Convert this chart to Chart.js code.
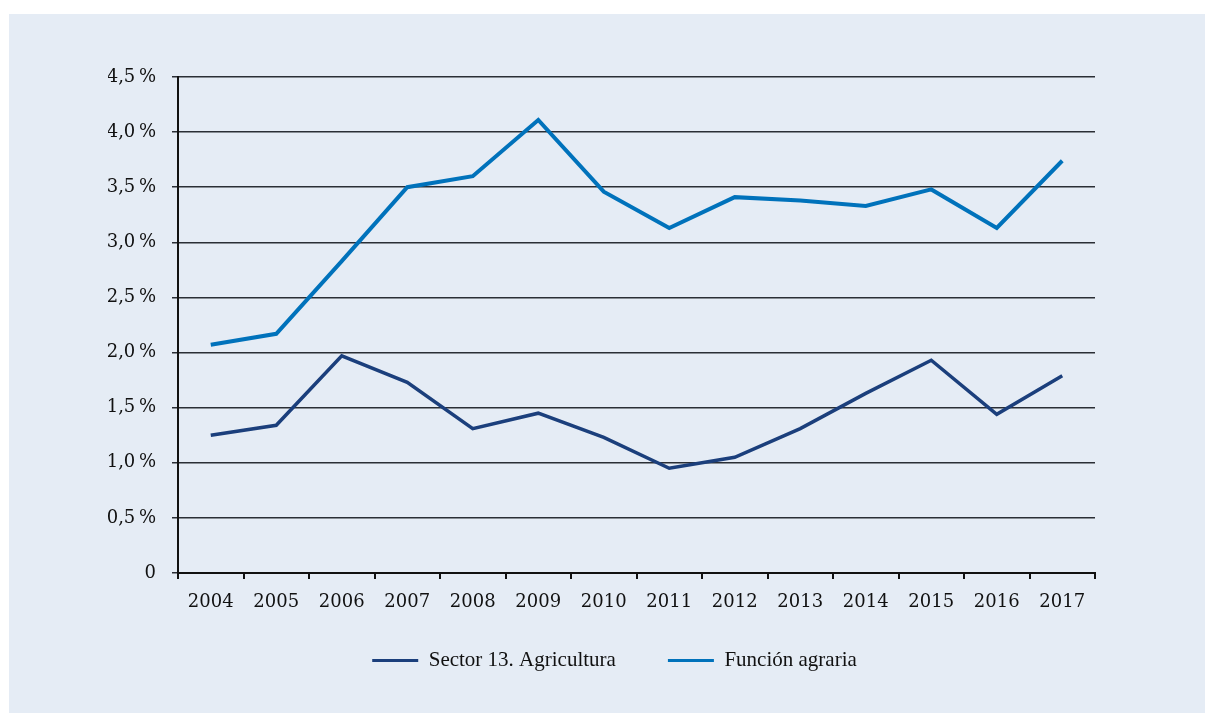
<!DOCTYPE html>
<html>
<head>
<meta charset="utf-8">
<script src="https://cdn.jsdelivr.net/npm/chart.js@4"></script>
<style>
  body { margin: 0; background: #ffffff; }
  #panel { position: absolute; left: 9px; top: 14px; width: 1196px; height: 699px; background: #e5ecf5; }
</style>
</head>
<body>
<div id="panel"><canvas id="lineChart"></canvas></div>
<script>
// Données
var annees = ["2004","2005","2006","2007","2008","2009","2010","2011","2012","2013","2014","2015","2016","2017"];
var sector13 = [1.25, 1.34, 1.97, 1.73, 1.31, 1.45, 1.23, 0.95, 1.05, 1.31, 1.63, 1.93, 1.44, 1.79];
var funcionAgraria = [2.07, 2.17, 2.83, 3.50, 3.60, 4.11, 3.46, 3.13, 3.41, 3.38, 3.33, 3.48, 3.13, 3.74];
var yTicks = [0, 0.5, 1, 1.5, 2, 2.5, 3, 3.5, 4, 4.5];

var tickFont = { family: "'DejaVu Serif', serif", size: 18 };

var data = {
  labels: annees,
  datasets: [{
    label: 'Sector 13. Agricultura',
    data: sector13,
    borderColor: '#1b3f7c',
    backgroundColor: '#1b3f7c',
    borderWidth: 3.5,
    pointRadius: 0,
    tension: 0
  }, {
    label: 'Función agraria',
    data: funcionAgraria,
    borderColor: '#0072bb',
    backgroundColor: '#0072bb',
    borderWidth: 4,
    pointRadius: 0,
    tension: 0
  }]
};

// décale la légende pour la centrer comme l'original
var decalLegende = {
  id: 'decalLegende',
  afterLayout: function (chart) {
    chart.legend.left += 13;
    chart.legend.right += 13;
  }
};

var options = {
  responsive: false,
  animation: false,
  layout: { padding: { left: 99, right: 110, top: 63, bottom: 32 } },
  plugins: {
    tooltip: { enabled: false },
    legend: {
      position: 'bottom',
      labels: {
        color: '#111',
        font: { family: "'Liberation Serif', serif", size: 21 },
        boxWidth: 46,
        boxHeight: 3,
        padding: 10,
        generateLabels: function (chart) {
          return Chart.defaults.plugins.legend.labels.generateLabels(chart).map(function (l, i) {
            l.lineWidth = 0;
            // espace entre les deux items
            if (i === 0) l.text = l.text + '        ';
            return l;
          });
        }
      }
    }
  },
  scales: {
    x: {
      offset: true,
      grid: { offset: true, drawOnChartArea: false, color: '#111', tickLength: 6, lineWidth: 2 },
      border: { color: '#111', width: 2 },
      ticks: { color: '#111', font: tickFont, padding: 13, maxRotation: 0 },
      afterFit: function (axis) { axis.height = 67; }
    },
    y: {
      min: 0,
      max: 4.5,
      afterBuildTicks: function (axis) {
        axis.ticks = yTicks.map(function (v) { return { value: v }; });
      },
      afterFit: function (axis) { axis.width = 70; },
      grid: { color: '#2a2e35', lineWidth: 1.5, tickLength: 6 },
      border: { color: '#111', width: 2 },
      ticks: {
        color: '#111',
        font: tickFont,
        padding: 16,
        callback: function (v) {
          return v === 0 ? '0' : v.toFixed(1).replace('.', ',') + '\u2009%';
        }
      }
    }
  }
};

var canvas = document.getElementById('lineChart');
canvas.width = 1196;
canvas.height = 699;
var ctx = canvas.getContext('2d');
var lineChart = new Chart(ctx, {
  type: 'line',
  data: data,
  options: options,
  plugins: [decalLegende]
});
</script>
</body>
</html>
